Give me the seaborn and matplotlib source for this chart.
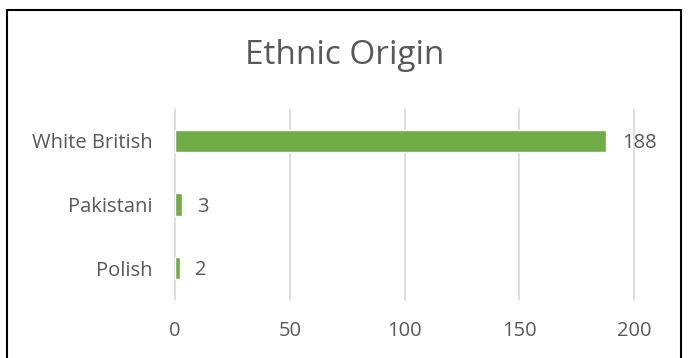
import matplotlib
matplotlib.use("Agg")
import matplotlib.pyplot as plt
import seaborn as sns
import pandas as pd
from matplotlib.patches import Rectangle

categories = ["White British", "Pakistani", "Polish"]
values = [188, 3, 2]
xticks = [0, 50, 100, 150, 200]

df = pd.DataFrame({"origin": categories, "count": values})

sns.set_theme(style="white")
plt.rcParams['font.family'] = ['Open Sans', 'DejaVu Sans']
txt = "#595959"

fig = plt.figure(figsize=(6.88, 3.58), dpi=100)
ax = fig.add_axes([175/688, 1-300/358, (634-175)/688, (300-109)/358])

sns.barplot(data=df, y="origin", x="count", color="#70AD47", orient="h",
            width=0.35, ax=ax, saturation=1)

ax.set_xlim(0, 200)
ax.set_ylim(2.5, -0.5)
ax.set_xticks(xticks)
ax.set_xticklabels([str(t) for t in xticks], color=txt, fontsize=14.5)
ax.tick_params(axis='y', labelcolor=txt, labelsize=14.5, length=0, pad=16)
ax.tick_params(axis='x', length=0, pad=15)
ax.grid(axis='x', color="#d9d9d9", linewidth=1.2)
for gl in ax.get_xgridlines():
    gl.set_clip_on(False)
ax.set_axisbelow(True)
for s in ax.spines.values():
    s.set_visible(False)
ax.set_xlabel("")
ax.set_ylabel("")

for i, v in enumerate(values):
    ax.annotate(str(v), xy=(v, i), xytext=(11, -1.5), textcoords="offset points",
                ha="left", va="center", color=txt, fontsize=14.5)

fig.text(345/688, 1-56/358, "Ethnic Origin", ha="center", va="center",
         color=txt, fontsize=24)

fig.patches.append(Rectangle((7/688, -0.05), (681-7)/688, (1-10/358)+0.05,
                             transform=fig.transFigure, fill=False,
                             edgecolor="black", linewidth=1.5))

fig.savefig("out.png", dpi=100)
